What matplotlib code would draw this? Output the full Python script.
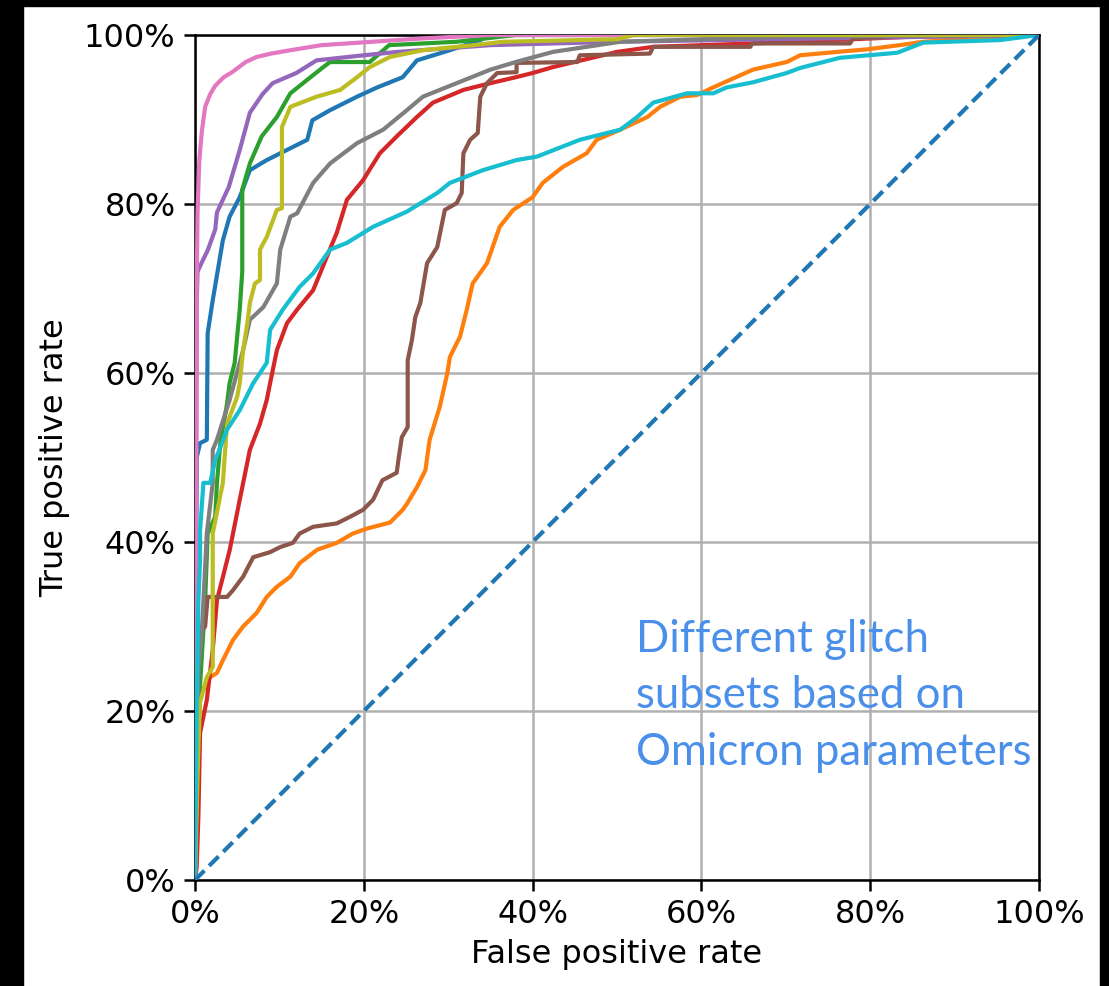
import matplotlib
matplotlib.use("Agg")
import matplotlib.pyplot as plt
from matplotlib.patches import Rectangle

# ROC curves (false positive rate %, true positive rate %) for each glitch subset
fpr_c0 = [0, 0.1, 0.2, 0.6, 1.4, 1.5, 2.1, 3.3, 4.1, 5.3, 6.5, 8.5, 10.9, 13.3, 13.9, 16, 19.2, 21.6, 24.6, 26.3, 30.2, 33.8, 35, 100]
tpr_c0 = [0, 30, 50, 51.7, 52.1, 64.7, 68.6, 75.7, 78.5, 80.8, 84, 85.2, 86.4, 87.6, 89.9, 91.1, 92.7, 93.8, 95, 97, 98.2, 99.4, 100, 100]

fpr_c1 = [0, 0.3, 0.6, 1.8, 2.6, 3.3, 4.5, 5.7, 7.3, 8.5, 9.7, 11.3, 12.4, 14.5, 16.8, 18.7, 20.4, 23.1, 24.6, 25.1, 26.3, 27.3, 27.8, 29, 29.9, 30.2, 31.4, 31.8, 32.2, 32.9, 34.6, 36.1, 37.7, 40, 41.2, 43.6, 46.4, 47.6, 50.4, 53.6, 55.1, 57.5, 59.5, 61.4, 66.1, 70.1, 71.7, 76.1, 79.6, 83.5, 86.3, 93, 100]
tpr_c1 = [0, 15, 21.7, 24, 24.5, 26, 28.4, 30, 31.6, 33.5, 34.7, 35.9, 37.5, 39.1, 39.9, 41, 41.6, 42.3, 43.8, 44.5, 46.5, 48.5, 52.1, 56, 60, 61.9, 64.3, 65.9, 67.5, 70.6, 73, 77.3, 79.3, 80.8, 82.5, 84.4, 86, 87.6, 88.8, 90.3, 91.5, 92.7, 92.9, 93.8, 95.9, 96.8, 97.6, 98, 98.3, 98.8, 99.2, 99.6, 100]

fpr_c2 = [0, 0.3, 0.6, 1.2, 1.5, 2.4, 2.6, 3, 3.8, 4.1, 4.7, 5.3, 5.6, 5.6, 6.5, 7.9, 9.7, 11.3, 13.3, 15.2, 16, 20.7, 23, 31, 38, 100]
tpr_c2 = [0, 15, 23, 33, 41, 43, 47, 51.7, 56.4, 58.8, 61.2, 67.5, 72, 81.7, 84.8, 88, 90.3, 93.1, 94.7, 96.2, 96.8, 96.8, 98.8, 99.2, 100, 100]

fpr_c3 = [0, 0.2, 0.4, 0.6, 1.4, 2.1, 2.6, 4.1, 5.3, 6.5, 7.7, 8.5, 8.9, 9.7, 10.9, 12.1, 14, 15.6, 16.8, 18, 19.9, 21.9, 23.9, 26.3, 28.2, 31.8, 35, 38, 40, 42.4, 50, 54.3, 66, 85, 100]
tpr_c3 = [0, 1.5, 7.5, 17.4, 21.3, 27.2, 33.1, 39, 45, 50.9, 54, 56.8, 58.8, 62.7, 65.9, 67.5, 69.8, 73.7, 76.6, 80.5, 82.8, 86, 88, 90.3, 92, 93.5, 94.3, 95, 95.5, 96.2, 98, 98.6, 99, 99.8, 100]

fpr_c4 = [0, 0.2, 0.3, 1, 1.5, 2.4, 2.6, 4, 5.3, 6.5, 8, 9.2, 12, 14.4, 20, 24, 35, 50, 75, 100]
tpr_c4 = [0, 68, 72, 73.5, 74.5, 77, 79, 82, 86.4, 90.8, 93, 94.3, 95.5, 97, 97.6, 98, 98.8, 99.2, 99.6, 100]

fpr_c5 = [0, 0.3, 0.5, 1.2, 1.5, 3.8, 4.5, 5.7, 6.9, 8.9, 10.1, 11.6, 12.4, 14, 16.8, 18.4, 19.9, 21.1, 22.2, 23.9, 24.1, 24.5, 25.2, 25.2, 25.7, 26.1, 26.7, 27.5, 28.7, 29.6, 31, 31.6, 31.8, 32.6, 33.5, 33.8, 34.6, 35.8, 38.1, 38.1, 45.3, 45.6, 53.9, 54.3, 65.8, 66, 77.6, 78, 85, 100]
tpr_c5 = [0, 20, 29.2, 30, 33.5, 33.5, 34.3, 35.9, 38.2, 38.8, 39.4, 39.9, 41, 41.8, 42.2, 43, 43.8, 45, 47.3, 48.2, 49.7, 52.4, 53.6, 61.5, 63.9, 66.6, 68.3, 73, 74.9, 79.3, 80.1, 81.3, 86, 87.6, 88.4, 92.7, 94.3, 95.5, 95.6, 96.7, 96.8, 97.6, 97.8, 98.6, 98.6, 99, 99, 99.6, 100, 100]

fpr_c6 = [0, 0.2, 0.3, 0.5, 0.8, 1.2, 1.8, 2.4, 3.4, 4.4, 6, 7.3, 9, 11.3, 15, 21, 27, 35, 100]
tpr_c6 = [0, 70, 79, 85, 88.5, 91.5, 93, 94, 95, 95.6, 96.8, 97.4, 97.8, 98.2, 98.8, 99.2, 99.6, 100, 100]

fpr_c7 = [0, 0.3, 0.4, 0.8, 1.4, 2.1, 2.1, 2.6, 4.1, 5.7, 6.5, 8.1, 9.7, 10.1, 11.3, 12.1, 14, 16, 19.2, 22.3, 25.1, 27, 31, 35, 38, 42.4, 50.4, 70, 100]
tpr_c7 = [0, 18, 25, 29.2, 41, 47, 50.9, 52.1, 56.8, 62.7, 66.3, 67.8, 70.6, 74.6, 78.5, 78.9, 82.5, 84.8, 87.2, 88.8, 91.1, 92.7, 94.3, 95.9, 96.8, 98, 99.2, 99.8, 100]

fpr_c8 = [0, 0.3, 0.4, 0.6, 1.4, 2.1, 2.1, 3.3, 3.8, 5, 5.3, 5.7, 6.2, 6.5, 7.1, 7.7, 7.7, 8.5, 9.7, 10.3, 10.3, 11.3, 14.4, 17.2, 19.2, 20.7, 23.1, 27, 33, 36.5, 50, 52, 100]
tpr_c8 = [0, 12, 15.7, 21, 24, 25.2, 41, 47, 54, 57.2, 58.8, 62.7, 65.9, 68.3, 70.6, 71, 74.6, 76.1, 79.3, 79.5, 89.1, 91.5, 92.7, 93.5, 95, 96.2, 97.4, 98.2, 98.8, 99.2, 99.5, 100, 100]

fpr_c9 = [0, 0.2, 0.4, 0.6, 0.6, 1, 1.8, 2.4, 3, 3.8, 5.3, 6.9, 8.5, 8.9, 10.4, 12.4, 14, 16, 18, 21.1, 25.1, 28.7, 30.2, 34.1, 38.1, 40.5, 45.6, 50.4, 52.4, 54.3, 58.3, 61.4, 63, 66.1, 70.1, 71.7, 76.4, 83.2, 86.3, 95.4, 100]
tpr_c9 = [0, 20, 33, 37.9, 41.4, 47, 47, 49.7, 51.2, 53.3, 55.6, 58.8, 61.2, 65.1, 67.5, 70.2, 71.8, 74.6, 75.4, 77.3, 79.1, 81.3, 82.5, 84, 85.2, 85.6, 87.6, 88.8, 90.3, 92, 93.1, 93.1, 93.8, 94.4, 95.5, 96.1, 97.3, 97.9, 99.1, 99.4, 100]

curves = [
    (fpr_c0, tpr_c0), (fpr_c1, tpr_c1), (fpr_c2, tpr_c2), (fpr_c3, tpr_c3),
    (fpr_c4, tpr_c4), (fpr_c5, tpr_c5), (fpr_c6, tpr_c6), (fpr_c7, tpr_c7),
    (fpr_c8, tpr_c8), (fpr_c9, tpr_c9),
]

chance_x = [0, 100]
chance_y = [0, 100]

tick_values = [0, 20, 40, 60, 80, 100]
tick_labels = ["0%", "20%", "40%", "60%", "80%", "100%"]

note_lines = ["Different glitch", "subsets based on", "Omicron parameters"]

W, H = 1109, 986
fig = plt.figure(figsize=(W / 100, H / 100), dpi=100)
fig.patch.set_facecolor("white")

# dark frame around the figure
for (x0, y0, w, h) in [(0, 0, 23, H), (0, H - 6, W, 6), (1100, 0, W - 1100, H)]:
    fig.patches.append(Rectangle((x0 / W, y0 / H), w / W, h / H,
                                 transform=fig.transFigure, color="black", zorder=-5))

ax = fig.add_axes([195 / W, (H - 880) / H, 844 / W, 845 / H])

for i, (fx, ty) in enumerate(curves):
    ax.plot(fx, ty, color=f"C{i}", lw=3.0, zorder=3)
ax.plot(chance_x, chance_y, color="C0", lw=3.0, ls=(0, (3.2, 1.6)), zorder=3)

ax.set_xlim(0, 100)
ax.set_ylim(0, 100)
ax.set_xticks(tick_values)
ax.set_xticklabels(tick_labels)
ax.set_yticks(tick_values)
ax.set_yticklabels(tick_labels)
ax.tick_params(labelsize=23, length=8, width=1.8, pad=6)
ax.grid(True, color="#b0b0b0", lw=1.8, zorder=0)
ax.set_axisbelow(True)
for s in ax.spines.values():
    s.set_linewidth(1.8)

ax.set_xlabel("False positive rate", fontsize=23, labelpad=6)
ax.set_ylabel("True positive rate", fontsize=23, labelpad=10)

# annotation in the lower right
for k, line in enumerate(note_lines):
    y_px = 652 + 56.5 * k
    fig.text(636 / W, (H - y_px) / H, line, fontsize=31.5, color="#4a8fea",
             family="Lato", ha="left", va="baseline")

fig.savefig("out.png", dpi=100)
